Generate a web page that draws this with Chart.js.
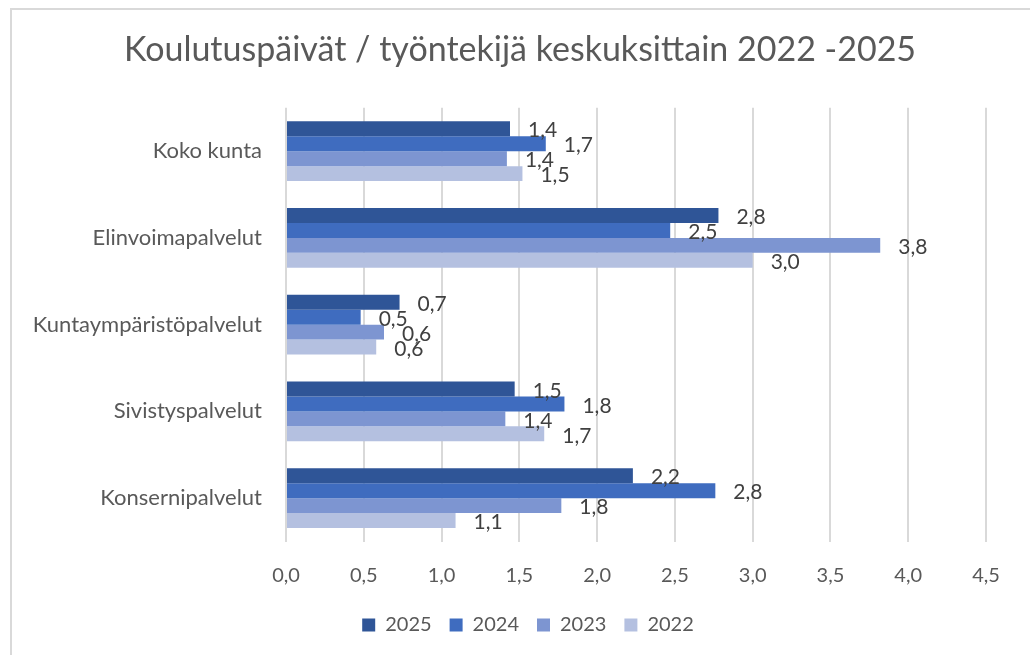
<!DOCTYPE html>
<html>
<head>
<meta charset="utf-8">
<script src="https://cdn.jsdelivr.net/npm/chart.js@4/dist/chart.umd.min.js"></script>
<style>
  body { margin: 0; background: #fff; overflow: hidden; }
  #frame { position: absolute; left: 10px; top: 8px; width: 1100px; height: 700px; border: 2px solid #d9d9d9; }
  #chart { position: absolute; left: 0; top: 0; }
</style>
</head>
<body>
<div id="frame"></div>
<canvas id="chart" width="1030" height="655"></canvas>
<script>
var categories = ['Koko kunta', 'Elinvoimapalvelut', 'Kuntaympäristöpalvelut', 'Sivistyspalvelut', 'Konsernipalvelut'];
var years = ['2025', '2024', '2023', '2022'];
var values2025 = [1.44, 2.78, 0.73, 1.47, 2.23];
var values2024 = [1.67, 2.47, 0.48, 1.79, 2.76];
var values2023 = [1.42, 3.82, 0.63, 1.41, 1.77];
var values2022 = [1.52, 3.00, 0.58, 1.66, 1.09];
var colors = ['#2f5597', '#3f6cbf', '#7d95d1', '#b4c0e0'];

var font = 'Lato';

// value labels next to each bar, Excel style
var barLabels = {
  id: 'barLabels',
  afterDatasetsDraw: function(chart) {
    var ctx = chart.ctx;
    ctx.save();
    ctx.font = '21px ' + font;
    ctx.fillStyle = '#404040';
    ctx.textBaseline = 'middle';
    ctx.textAlign = 'left';
    chart.data.datasets.forEach(function(ds, i) {
      chart.getDatasetMeta(i).data.forEach(function(bar, j) {
        var txt = ds.data[j].toFixed(1).replace('.', ',');
        ctx.fillText(txt, bar.x + 18, bar.y + 2);
      });
    });
    ctx.restore();
  }
};

// title and legend sit a bit right of the canvas centre in the original
var nudge = {
  id: 'nudge',
  afterLayout: function(chart) {
    chart.titleBlock.left += 27;
    chart.titleBlock.right += 27;
    chart.legend.left += 35;
    chart.legend.right += 35;
  }
};

new Chart(document.getElementById('chart'), {
  type: 'bar',
  data: {
    labels: categories,
    datasets: [
      { label: years[0], data: values2025, backgroundColor: colors[0] },
      { label: years[1], data: values2024, backgroundColor: colors[1] },
      { label: years[2], data: values2023, backgroundColor: colors[2] },
      { label: years[3], data: values2022, backgroundColor: colors[3] }
    ]
  },
  options: {
    indexAxis: 'y',
    responsive: false,
    animation: false,
    layout: { padding: { left: 0, right: 44, top: 0, bottom: 10 } },
    datasets: { bar: { categoryPercentage: 0.69, barPercentage: 1 } },
    scales: {
      x: {
        min: 0,
        max: 4.5,
        afterFit: function(scale) { scale.height = 55.5; },
        ticks: {
          stepSize: 0.5,
          color: '#595959',
          font: { family: font, size: 20 },
          padding: 22,
          callback: function(v) { return v.toFixed(1).replace('.', ','); }
        },
        grid: { color: '#d9d9d9', lineWidth: 2, drawTicks: false },
        border: { display: false }
      },
      y: {
        afterFit: function(scale) { scale.width = 286; },
        ticks: { color: '#595959', font: { family: font, size: 22 }, padding: 16 },
        grid: { display: false },
        border: { display: false }
      }
    },
    plugins: {
      title: {
        display: true,
        text: 'Koulutuspäivät / työntekijä keskuksittain 2022 -2025',
        color: '#595959',
        font: { family: font, size: 34, weight: 'normal' },
        padding: { top: 30, bottom: 37 }
      },
      legend: {
        position: 'bottom',
        labels: {
          boxWidth: 13,
          boxHeight: 13,
          padding: 18,
          color: '#595959',
          font: { family: font, size: 20 }
        }
      },
      tooltip: { enabled: false }
    }
  },
  plugins: [barLabels, nudge]
});
</script>
</body>
</html>
